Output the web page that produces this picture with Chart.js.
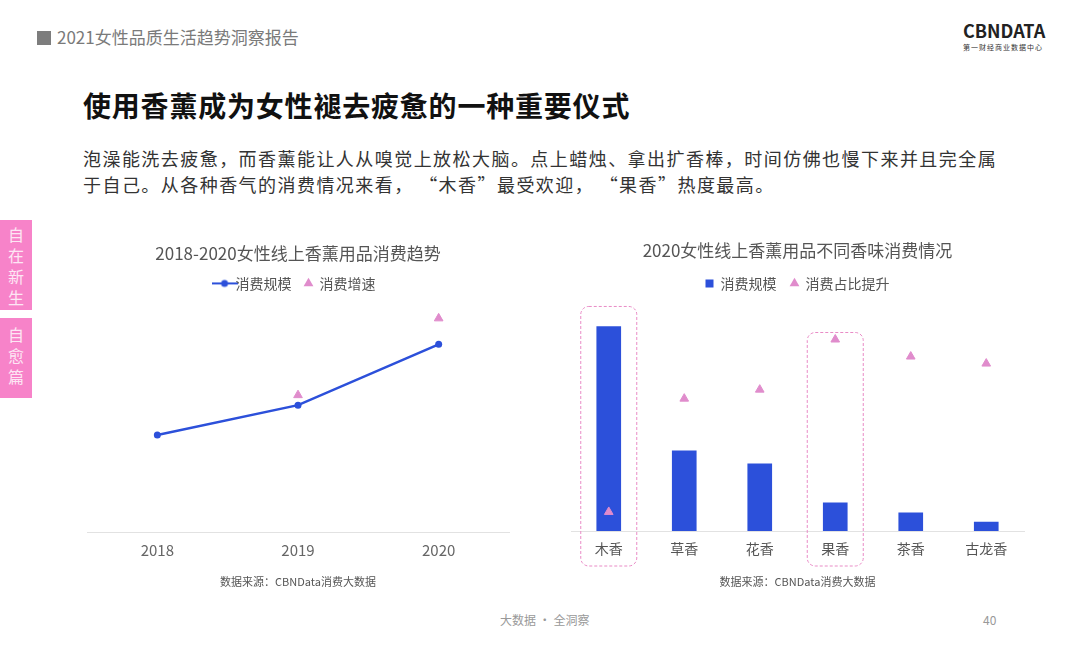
<!DOCTYPE html>
<html lang="zh-CN">
<head>
<meta charset="utf-8">
<script src="https://cdn.jsdelivr.net/npm/chart.js"></script>
<style>
  body { margin: 0; width: 1080px; height: 648px; background: #fff; position: relative; overflow: hidden;
         font-family: "Noto Sans CJK SC", "Noto Sans", sans-serif; }
  .abs { position: absolute; }
  #hdr { left: 37px; top: 26px; font-size: 17px; color: #7a7a7a; line-height: 22px; }
  #hdr span.sq { display: inline-block; width: 14px; height: 14px; background: #7d7d7d; margin-right: 6px; vertical-align: -1px; }
  #logo { left: 963px; top: 20px; font-size: 18px; font-weight: bold; color: #222; line-height: 20px; }
  #logo2 { left: 963px; top: 43px; font-size: 7px; color: #333; line-height: 9px; letter-spacing: 1px; }
  #title { left: 83px; top: 86px; font-size: 28px; font-weight: bold; color: #111; line-height: 38px; letter-spacing: 0.8px; }
  #para { left: 83px; top: 145px; font-size: 18px; color: #333; line-height: 26px; width: 990px; letter-spacing: 1.45px; }
  .tab { left: 0; width: 32px; background: #f783c9; color: #fde6f4; font-size: 16px; line-height: 21px; text-align: center; }
  #foot { left: 500px; top: 611px; font-size: 12px; color: #999; }
  #page { left: 983px; top: 611px; font-size: 12px; color: #999; }
  canvas { position: absolute; }
</style>
</head>
<body>
<div id="hdr" class="abs"><span class="sq"></span>2021女性品质生活趋势洞察报告</div>
<div id="logo" class="abs">CBNDATA</div>
<div id="logo2" class="abs">第一财经商业数据中心</div>
<div id="title" class="abs">使用香薰成为女性褪去疲惫的一种重要仪式</div>
<div id="para" class="abs">泡澡能洗去疲惫，而香薰能让人从嗅觉上放松大脑。点上蜡烛、拿出扩香棒，时间仿佛也慢下来并且完全属<br>于自己。从各种香气的消费情况来看， “木香”最受欢迎， “果香”热度最高。</div>
<div class="abs tab" style="top:220px;height:90px;padding-top:4px;box-sizing:border-box;">自<br>在<br>新<br>生</div>
<div class="abs tab" style="top:318px;height:80px;padding-top:6px;box-sizing:border-box;">自<br>愈<br>篇</div>
<div id="foot" class="abs">大数据 · 全洞察</div>
<div id="page" class="abs">40</div>

<canvas id="lineChart" style="left:81px;top:236px;" width="434" height="352"></canvas>
<canvas id="barChart" style="left:565px;top:236px;" width="465" height="352"></canvas>

<script>
  // left chart data
  const years = ['2018', '2019', '2020'];
  const scaleTrend = [98, 128, 189];
  const growthTrend = [null, 138, 215];

  // right chart data
  const scents = ['木香', '草香', '花香', '果香', '茶香', '古龙香'];
  const scentScale = [204, 80, 67, 28, 18, 9];
  const shareRise = [19, 132, 141, 191, 174, 167];
  const highlighted = [0, 3];

  const blue = '#2c50da';
  const pink = '#e08ccc';
  const fontName = '"Noto Sans CJK SC", "Noto Sans", sans-serif';
  const srcText = '数据来源：CBNData消费大数据';

  // legend icon: line with dot
  const lineIcon = document.createElement('canvas');
  lineIcon.width = 26; lineIcon.height = 10;
  let ic = lineIcon.getContext('2d');
  ic.strokeStyle = blue; ic.lineWidth = 2;
  ic.beginPath(); ic.moveTo(0, 5); ic.lineTo(26, 5); ic.stroke();
  ic.fillStyle = blue; ic.beginPath(); ic.arc(13, 5, 3.5, 0, Math.PI * 2); ic.fill();

  function titleOpts(text, top, bottom) {
    return { display: true, text: text, color: '#555', font: { family: fontName, size: 17, weight: 'normal' }, padding: { top: top, bottom: bottom } };
  }
  function sourceOpts(top) {
    return { display: true, position: 'bottom', text: srcText, color: '#555', font: { family: fontName, size: 11 }, padding: { top: top, bottom: 0 } };
  }

  new Chart(document.getElementById('lineChart'), {
    type: 'line',
    data: {
      labels: years,
      datasets: [
        { label: '消费规模', data: scaleTrend, borderColor: blue, backgroundColor: blue, borderWidth: 2.5,
          pointRadius: 3.5, pointBackgroundColor: blue, pointBorderWidth: 0, pointStyle: 'circle', tension: 0,
          order: 2 },
        { label: '消费增速', data: growthTrend, showLine: false, borderColor: pink, backgroundColor: pink,
          pointStyle: 'triangle', pointRadius: 5, order: 1 }
      ]
    },
    options: {
      responsive: false, animation: false,
      layout: { padding: 0 },
      plugins: {
        title: titleOpts('2018-2020女性线上香薰用品消费趋势', 7, 0),
        subtitle: sourceOpts(8),
        tooltip: { enabled: false },
        legend: {
          labels: {
            usePointStyle: true, boxWidth: 8, boxHeight: 8, padding: 13, color: '#555',
            font: { family: fontName, size: 14 },
            generateLabels: function (chart) {
              return [
                { text: '消费规模', pointStyle: lineIcon, fillStyle: blue, strokeStyle: blue, lineWidth: 0, fontColor: '#555', datasetIndex: 0 },
                { text: '消费增速', pointStyle: 'triangle', fillStyle: pink, strokeStyle: pink, lineWidth: 0, fontColor: '#555', datasetIndex: 1 }
              ];
            }
          }
        }
      },
      scales: {
        x: { offset: true, grid: { display: false, drawTicks: false }, border: { color: '#e2e2e2' },
             ticks: { color: '#666', font: { family: fontName, size: 15 }, padding: 8 } },
        y: { display: false, min: 0, max: 233 }
      }
    }
  });

  const boxPlugin = {
    id: 'boxes',
    afterDatasetsDraw(chart) {
      const ctx = chart.ctx;
      const xs = chart.scales.x;
      const bars = chart.getDatasetMeta(0).data;
      const tris = chart.getDatasetMeta(1).data;
      ctx.save();
      ctx.strokeStyle = '#e98bc6';
      ctx.lineWidth = 1;
      ctx.setLineDash([3, 2]);
      highlighted.forEach(i => {
        const cx = xs.getPixelForValue(i);
        const top = Math.min(bars[i].y - 20, tris[i].y - 7);
        const bottom = chart.chartArea.bottom + 35;
        ctx.beginPath();
        ctx.roundRect(cx - 28, top, 56, bottom - top, 8);
        ctx.stroke();
      });
      ctx.restore();
    }
  };

  new Chart(document.getElementById('barChart'), {
    type: 'bar',
    data: {
      labels: scents,
      datasets: [
        { type: 'bar', label: '消费规模', data: scentScale, backgroundColor: blue, barThickness: 24, order: 2 },
        { type: 'line', label: '消费占比提升', data: shareRise, showLine: false, borderColor: pink, backgroundColor: pink,
          pointStyle: 'triangle', pointRadius: 5, order: 1 }
      ]
    },
    plugins: [boxPlugin],
    options: {
      responsive: false, animation: false,
      layout: { padding: 0 },
      plugins: {
        title: titleOpts('2020女性线上香薰用品不同香味消费情况', 4, 2),
        subtitle: sourceOpts(9),
        tooltip: { enabled: false },
        legend: {
          labels: {
            usePointStyle: true, boxWidth: 8, boxHeight: 8, padding: 14, color: '#555',
            font: { family: fontName, size: 14 },
            generateLabels: function (chart) {
              return [
                { text: '消费规模', pointStyle: 'rect', fillStyle: blue, strokeStyle: blue, lineWidth: 0, fontColor: '#555', datasetIndex: 0 },
                { text: '消费占比提升', pointStyle: 'triangle', fillStyle: pink, strokeStyle: pink, lineWidth: 0, fontColor: '#555', datasetIndex: 1 }
              ];
            }
          }
        }
      },
      scales: {
        x: { grid: { display: false, drawTicks: false }, border: { color: '#e2e2e2' },
             ticks: { color: '#555', font: { family: fontName, size: 14 }, padding: 9 } },
        y: { display: false, min: 0, max: 230 }
      }
    }
  });
</script>
</body>
</html>
